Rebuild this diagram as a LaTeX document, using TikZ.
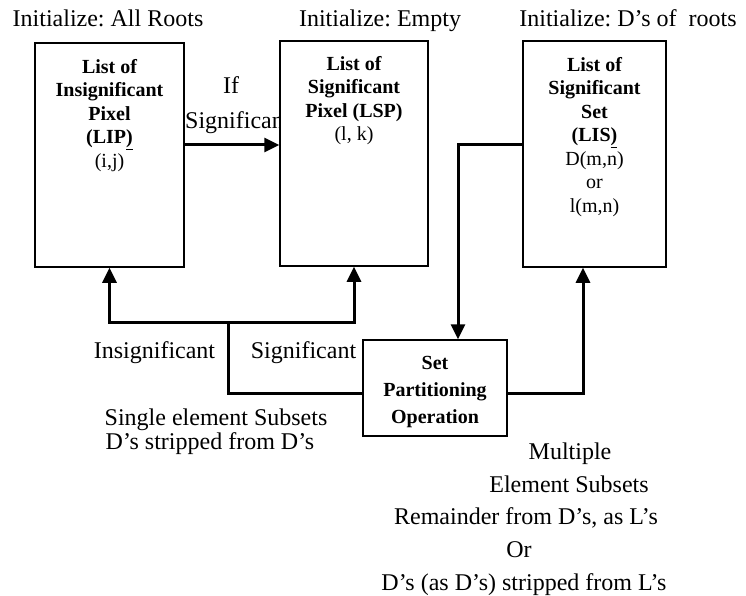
\documentclass[tikz,border=0pt]{standalone}
\usepackage{fontspec}
\setmainfont{Liberation Serif}
\usetikzlibrary{arrows.meta}
\frenchspacing
\begin{document}
\begin{tikzpicture}[x=1pt,y=-1pt,
  box/.style={draw,line width=1.5pt,fill=white,inner sep=0pt},
  arr/.style={line width=3pt,-{Triangle[length=15pt,width=14pt]}},
  conn/.style={line width=3pt},
  lbl/.style={inner sep=0pt,anchor=base,font=\fontsize{24}{28}\selectfont},
  btxt/.style={inner sep=0pt,anchor=north,align=center,font=\fontsize{20}{23.5}\selectfont\bfseries}]
\useasboundingbox (0,0) rectangle (746,596);
% named helper coordinates
\coordinate (y145) at (0,145);
\coordinate (y393) at (0,393);
\coordinate (x458) at (458,0);
\coordinate (x583) at (583,0);
\coordinate (split) at (228,322);
% top labels
\node[lbl] (init1) at (108,27) {Initialize: All Roots};
\node[lbl] (init2) at (380,27) {Initialize: Empty};
\node[lbl] (init3) at (628,27) {Initialize: D’s of\ \ roots};
% If significant label (clipped by LSP box)
\node[lbl] (iflbl) at (231,94) {If};
\node[lbl,anchor=base west] (siglbl) at (185,129) {Significant};
% boxes
\node[box,minimum width=149pt,minimum height=224pt] (lip) at (109.5,155) {};
\node[box,minimum width=148pt,minimum height=225pt] (lsp) at (354,153.5) {};
\node[box,minimum width=143pt,minimum height=226pt] (lis) at (594.5,154) {};
\node[box,minimum width=144pt,minimum height=96pt] (spo) at (435,388) {};
% box texts
\node[btxt] (liptext) at (lip.north |- 0,59) {List of\\Insignificant\\Pixel\\(LIP\underline{)}\\\mdseries (i,j)};
\node[btxt] (lsptext) at (lsp.north |- 0,56) {List of\\Significant\\Pixel (LSP)\\\mdseries (l, k)};
\node[btxt] (listext) at (lis.north |- 0,57) {List of\\Significant\\Set\\(LIS\underline{)}\\\mdseries D(m,n)\\\mdseries or\\\mdseries l(m,n)};
\node[btxt,font=\fontsize{20}{27}\selectfont\bfseries] (spotext) at (spo.north |- 0,356) {Set\\Partitioning\\Operation};
% connectors
\draw[arr] (lip.east |- y145) -- (lsp.west |- y145);
\draw[arr] (split) -| (lip.south);
\draw[arr] (split) -| (lsp.south);
\draw[conn] (spo.west |- y393) -| (split);
\draw[arr] (spo.east |- y393) -| (lis.south -| x583);
\draw[arr] (lis.west |- y145) -| (spo.north -| x458);
% bottom labels
\node[lbl] (insig) at (154.5,358) {Insignificant};
\node[lbl] (sig) at (303.5,358) {Significant};
\node[lbl] (single) at (216,425) {Single element Subsets};
\node[lbl] (dstrip) at (210,449) {D’s stripped from D’s};
\node[lbl] (mult) at (570,459) {Multiple};
\node[lbl] (elem) at (569,492) {Element Subsets};
\node[lbl] (remain) at (526,524) {Remainder from D’s, as L’s};
\node[lbl] (orlbl) at (519,557) {Or};
\node[lbl] (dsas) at (524,590) {D’s (as D’s) stripped from L’s};
\end{tikzpicture}
\end{document}
